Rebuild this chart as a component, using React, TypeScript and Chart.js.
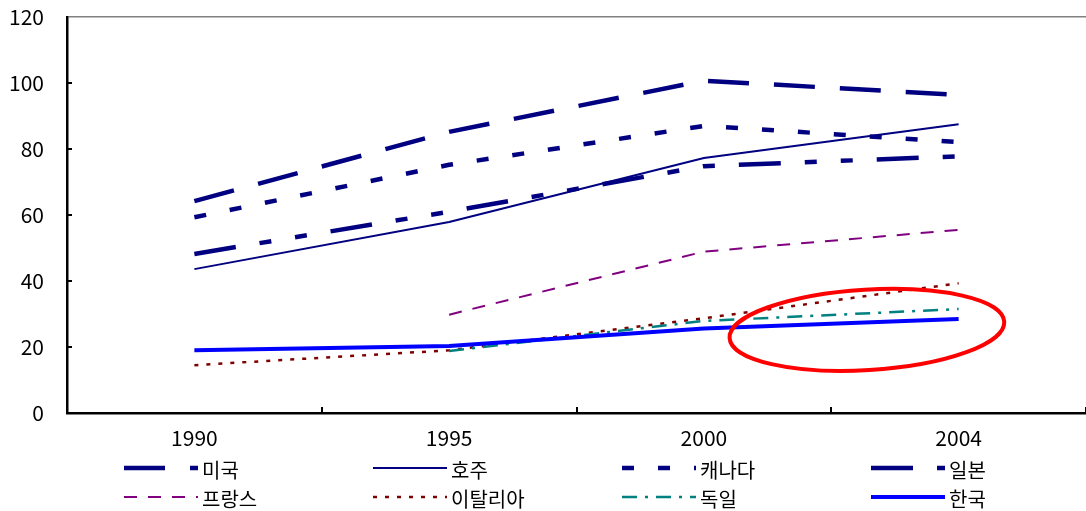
import { useEffect, useRef } from 'react';
import { Chart, registerables } from 'chart.js';

Chart.register(...registerables);

const years = ['1990', '1995', '2000', '2004'];
const seriesNames = ['미국', '호주', '캐나다', '일본', '프랑스', '이탈리아', '독일', '한국'];
const usa = [64.2, 85.2, 100.7, 96.4];
const australia = [43.6, 57.9, 77.3, 87.5];
const canada = [59.3, 75.2, 87.0, 82.1];
const japan = [48.2, 61.0, 74.8, 77.8];
const france = [null, 29.8, 48.9, 55.5];
const italy = [14.5, 19.0, 28.7, 39.3];
const germany = [null, 18.8, 27.9, 31.5];
const korea = [19.0, 20.3, 25.6, 28.5];
const yTickValues = [0, 20, 40, 60, 80, 100, 120];

// hand-drawn highlight around the 2000-2004 lower series (category index, value)
const highlightCenter = { index: 2.64, value: 25.2 };
const highlightRadius = { index: 0.54, value: 12.2 };

const FONT = "'Noto Sans CJK KR', 'Noto Sans', sans-serif";

const styles = [
  { color: '#000080', width: 4.5, dash: [41, 25] },
  { color: '#000080', width: 2, dash: [] },
  { color: '#000080', width: 4.5, dash: [12, 24] },
  { color: '#000080', width: 4.5, dash: [42, 24, 12, 24, 12, 24] },
  { color: '#800080', width: 2, dash: [13, 11] },
  { color: '#800000', width: 2.5, dash: [4, 8] },
  { color: '#008080', width: 2.5, dash: [15, 8, 3, 8] },
  { color: '#0000FF', width: 4, dash: [] },
];

const seriesData = [usa, australia, canada, japan, france, italy, germany, korea];

const innerTicksPlugin = {
  id: 'innerTicks',
  afterDraw(chart: any) {
    const { ctx, chartArea, scales } = chart;
    const xs = scales.x;
    const ys = scales.y;
    ctx.save();
    ctx.strokeStyle = '#000';
    ctx.lineWidth = 2;
    ctx.beginPath();
    yTickValues.forEach((v) => {
      if (v === 0 || v === 120) return;
      const py = Math.round(ys.getPixelForValue(v));
      ctx.moveTo(chartArea.left, py);
      ctx.lineTo(chartArea.left + 5, py);
    });
    for (let i = 1; i <= years.length; i++) {
      const px = Math.round(xs.getPixelForValue(i - 0.5));
      ctx.moveTo(px, chartArea.bottom);
      ctx.lineTo(px, chartArea.bottom - 6);
    }
    ctx.stroke();
    ctx.restore();
  },
};

const highlightPlugin = {
  id: 'highlight',
  afterDatasetsDraw(chart: any) {
    const { ctx, scales } = chart;
    const xs = scales.x;
    const ys = scales.y;
    const cx = xs.getPixelForValue(highlightCenter.index);
    const cy = ys.getPixelForValue(highlightCenter.value);
    const rx = xs.getPixelForValue(highlightCenter.index + highlightRadius.index) - cx;
    const ry = cy - ys.getPixelForValue(highlightCenter.value + highlightRadius.value);
    ctx.save();
    ctx.strokeStyle = '#FF0000';
    ctx.lineWidth = 4;
    ctx.beginPath();
    ctx.ellipse(cx, cy, rx, ry, -0.06, 0, Math.PI * 2);
    ctx.stroke();
    ctx.restore();
  },
};

const gridLegendPlugin = {
  id: 'gridLegend',
  afterDraw(chart: any) {
    const { ctx } = chart;
    const datasets = chart.data.datasets;
    const colStart = 124;
    const colStep = 249;
    const sampleLen = 74;
    const rowY = [468, 497];
    ctx.save();
    ctx.font = `20px ${FONT}`;
    ctx.textBaseline = 'middle';
    ctx.textAlign = 'left';
    datasets.forEach((ds: any, i: number) => {
      const col = i % 4;
      const row = Math.floor(i / 4);
      const x0 = colStart + col * colStep;
      const y = rowY[row];
      ctx.strokeStyle = ds.borderColor;
      ctx.lineWidth = ds.borderWidth;
      ctx.setLineDash(ds.borderDash || []);
      ctx.lineCap = 'butt';
      ctx.beginPath();
      ctx.moveTo(x0, y);
      ctx.lineTo(x0 + sampleLen, y);
      ctx.stroke();
      ctx.setLineDash([]);
      ctx.fillStyle = '#000';
      ctx.fillText(ds.label, x0 + sampleLen + 4, y + 2);
    });
    ctx.restore();
  },
};

export default function App() {
  const canvasRef = useRef<HTMLCanvasElement | null>(null);

  useEffect(() => {
    document.body.style.margin = '0';
    const canvas = canvasRef.current;
    if (!canvas) return;

    const datasets = seriesNames.map((name, i) => ({
      label: name,
      data: seriesData[i],
      borderColor: styles[i].color,
      backgroundColor: styles[i].color,
      borderWidth: styles[i].width,
      borderDash: styles[i].dash,
      borderCapStyle: 'butt' as const,
      pointRadius: 0,
      pointHoverRadius: 0,
      tension: 0,
      fill: false,
      spanGaps: false,
      order: seriesNames.length - i,
    }));

    const chart = new Chart(canvas, {
      type: 'line',
      data: { labels: years, datasets },
      options: {
        responsive: false,
        animation: false,
        devicePixelRatio: 1,
        layout: { autoPadding: false, padding: { top: 17, left: 0, right: 0, bottom: 0 } },
        plugins: {
          legend: { display: false },
          tooltip: { enabled: false },
          title: { display: false },
        },
        scales: {
          x: {
            type: 'category',
            offset: true,
            grid: { display: false, offset: true, drawTicks: false },
            border: { display: true, color: '#000', width: 2.5 },
            ticks: {
              color: '#000',
              font: { family: FONT, size: 21 },
              padding: 12,
              maxRotation: 0,
              autoSkip: false,
            },
            afterFit: (s: any) => {
              s.height = 98;
              s.paddingLeft = 0;
              s.paddingRight = 0;
            },
          },
          y: {
            min: 0,
            max: 120,
            ticks: {
              stepSize: 20,
              color: '#000',
              font: { family: FONT, size: 21 },
              padding: 23,
            },
            grid: {
              drawTicks: false,
              lineWidth: 1.5,
              color: (c: any) => (c.tick && c.tick.value === 120 ? '#808080' : 'rgba(0,0,0,0)'),
            },
            border: { display: true, color: '#000', width: 2.5 },
            afterFit: (s: any) => {
              s.width = 67;
              s.paddingTop = 0;
              s.paddingBottom = 0;
            },
          },
        },
      },
      plugins: [innerTicksPlugin, highlightPlugin, gridLegendPlugin],
    });

    return () => {
      chart.destroy();
    };
  }, []);

  return (
    <div style={{ width: 1086, height: 511 }}>
      <canvas ref={canvasRef} width={1086} height={511} style={{ display: 'block' }} />
    </div>
  );
}
